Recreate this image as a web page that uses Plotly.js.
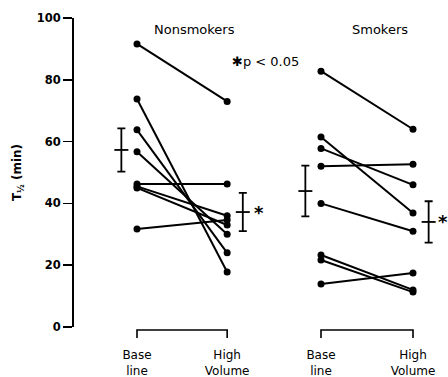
<!DOCTYPE html>
<html>
<head>
<meta charset="utf-8">
<script src="https://cdn.plot.ly/plotly-3.0.1.min.js"></script>
<style>html,body{margin:0;padding:0;background:#fff;}#chart{width:448px;height:377px;}</style>
</head>
<body>
<div id="chart"></div>
<script>
// ---- data ----
const groups = ["Nonsmokers", "Smokers"];
const conditions = ["Base<br>line", "High<br>Volume"];
const nonsmokersBase = [91.6, 73.8, 63.8, 56.7, 46.3, 45.5, 45.0, 31.7];
const nonsmokersHigh = [73.0, 17.8, 24.0, 30.0, 46.3, 36.0, 33.0, 34.6];
const smokersBase = [82.8, 61.5, 57.8, 52.0, 40.0, 23.3, 21.7, 13.9];
const smokersHigh = [64.0, 36.9, 46.0, 52.7, 31.0, 12.0, 11.3, 17.5];
const meanBase = [57.3, 44.0];
const seBase = [7.0, 8.2];
const meanHigh = [37.2, 34.0];
const seHigh = [6.2, 6.7];
const yTicks = [0, 20, 40, 60, 80, 100];
const sigNote = "✱p < 0.05";

// ---- positions (layout) ----
const xBase = [0, 2];
const xHigh = [0.98, 3];
const barOffset = 0.17;
const font = "DejaVu Sans";

function pairedTrace(base, high, xb, xh) {
  const x = [], y = [];
  for (let i = 0; i < base.length; i++) {
    x.push(xb, xh, null);
    y.push(base[i], high[i], null);
  }
  return {
    type: "scatter", mode: "lines+markers", x: x, y: y,
    line: {color: "#000", width: 2},
    marker: {color: "#000", size: 7},
    hoverinfo: "skip", showlegend: false, cliponaxis: false
  };
}

const traces = [
  pairedTrace(nonsmokersBase, nonsmokersHigh, xBase[0], xHigh[0]),
  pairedTrace(smokersBase, smokersHigh, xBase[1], xHigh[1]),
  {
    type: "scatter", mode: "markers",
    x: [xBase[0] - barOffset, xHigh[0] + barOffset, xBase[1] - barOffset, xHigh[1] + barOffset],
    y: [meanBase[0], meanHigh[0], meanBase[1], meanHigh[1]],
    error_y: {type: "data", array: [seBase[0], seHigh[0], seBase[1], seHigh[1]], color: "#000", thickness: 1.8, width: 4},
    marker: {symbol: "line-ew", size: 10, line: {color: "#000", width: 1.8}},
    hoverinfo: "skip", showlegend: false
  }
];

const shapes = [];
for (let g = 0; g < 2; g++) {
  shapes.push({
    type: "path", xref: "x", yref: "paper",
    path: `M ${xBase[g]},-0.036 L ${xBase[g]},-0.0097 L ${xHigh[g]},-0.0097 L ${xHigh[g]},-0.036`,
    line: {color: "#000", width: 1.6}
  });
}

const annotations = [
  {x: 0.62, y: 0.9935, xref: "x", yref: "paper", text: groups[0], showarrow: false, font: {family: font, size: 13, color: "#000"}},
  {x: 2.64, y: 0.9935, xref: "x", yref: "paper", text: groups[1], showarrow: false, font: {family: font, size: 13, color: "#000"}},
  {x: 1.40, y: 85.8, xref: "x", yref: "y", text: sigNote, showarrow: false, font: {family: font, size: 13, color: "#000"}},
  {x: xHigh[0] + barOffset + 0.18, y: meanHigh[0], xref: "x", yref: "y", text: "*", showarrow: false, font: {family: font, size: 18, color: "#000", weight: "bold"}},
  {x: xHigh[1] + barOffset + 0.16, y: meanHigh[1], xref: "x", yref: "y", text: "*", showarrow: false, font: {family: font, size: 18, color: "#000", weight: "bold"}}
];

const layout = {
  width: 448, height: 377,
  margin: {l: 74, r: 0, t: 18, b: 50, pad: 0},
  paper_bgcolor: "#fff", plot_bgcolor: "#fff",
  showlegend: false,
  xaxis: {
    range: [(74 - 137) / 92, (448 - 137) / 92],
    showline: false, zeroline: false, showgrid: false, ticks: "",
    tickvals: [xBase[0], xHigh[0], xBase[1], xHigh[1]],
    ticktext: [conditions[0], conditions[1], conditions[0], conditions[1]],
    tickfont: {family: font, size: 12, color: "#000"},
    ticklabelstandoff: 19, fixedrange: true
  },
  yaxis: {
    range: [0, 100],
    showline: true, linewidth: 2, linecolor: "#000",
    zeroline: false, showgrid: false,
    ticks: "outside", ticklen: 9, tickwidth: 1.5, tickcolor: "#000",
    tickvals: yTicks, ticktext: yTicks.map(String),
    tickfont: {family: font, size: 11.5, color: "#000", weight: "bold"},
    title: {text: "T<sub>½</sub> (min)", font: {family: font, size: 12, color: "#000", weight: "bold"}, standoff: 12},
    fixedrange: true
  },
  shapes: shapes,
  annotations: annotations
};

Plotly.newPlot("chart", traces, layout, {staticPlot: true, displayModeBar: false});
</script>
</body>
</html>
